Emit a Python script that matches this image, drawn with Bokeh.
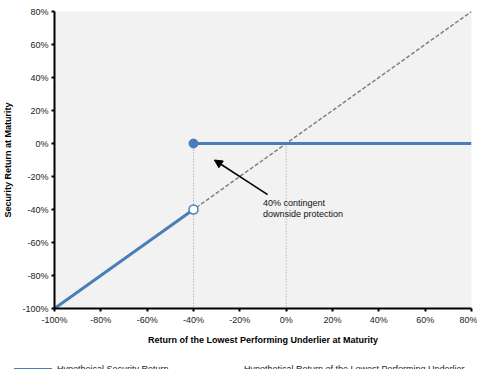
from bokeh.plotting import figure
from bokeh.layouts import column
from bokeh.models import (Arrow, NormalHead, Label, FixedTicker, Div,
                          CustomJSTickFormatter, Range1d)
from bokeh.embed import file_html
from bokeh.resources import INLINE

# ---- data ----
ticks = [-100, -80, -60, -40, -20, 0, 20, 40, 60, 80]
sec_down_x = [-100, -40]
sec_down_y = [-100, -40]
sec_flat_x = [-40, 80]
sec_flat_y = [0, 0]
under_x = [-100, 80]
under_y = [-100, 80]
barrier_x = [-40]
barrier_filled_y = [0]
barrier_open_y = [-40]
guide_x = [-40, 0]
guide_top = [0, 0]
guide_bottom = [-100, -100]
arrow_start = (-8, -31)
arrow_end = (-31, -10)
note_pos = (-10, -33)
note_text = "40% contingent\ndownside protection"
legend_labels = ["Hypotheical Security Return",
                 "Hypothetical Return of the Lowest Performing Underlier"]

BLUE = "#4a7ebb"
GRAY = "#808080"
FONT = "Liberation Sans"

p = figure(frame_width=417, frame_height=297, output_backend="svg",
           toolbar_location=None,
           x_range=Range1d(-100, 80), y_range=Range1d(-100, 80),
           min_border_left=44, min_border_right=6, min_border_top=11,
           min_border_bottom=0)
p.background_fill_color = "#f2f2f2"
p.border_fill_color = "white"
p.outline_line_color = None
p.xgrid.visible = False
p.ygrid.visible = False

fmt = CustomJSTickFormatter(code="return tick + '%';")
for ax in (p.xaxis[0], p.yaxis[0]):
    ax.ticker = FixedTicker(ticks=ticks)
    ax.formatter = fmt
    ax.axis_line_width = 2
    ax.axis_line_color = "black"
    ax.major_tick_line_color = "black"
    ax.major_tick_line_width = 2
    ax.major_tick_in = 0
    ax.major_tick_out = 3
    ax.minor_tick_line_color = None
    ax.major_label_text_font = FONT
    ax.major_label_text_font_size = "9px"
    ax.major_label_text_color = "#222222"
    ax.axis_label_text_font = FONT
    ax.axis_label_text_font_size = "9px"
    ax.axis_label_text_font_style = "bold"
    ax.axis_label_text_color = "black"

p.xaxis.axis_label = "Return of the Lowest Performing Underlier at Maturity"
p.yaxis.axis_label = "Security Return at Maturity"
p.xaxis.major_label_standoff = 3
p.yaxis.major_label_standoff = 3
p.xaxis.axis_label_standoff = 7
p.yaxis.axis_label_standoff = 6

# guide dotted lines
p.segment(x0=guide_x, y0=guide_top, x1=guide_x, y1=guide_bottom,
          line_color="#9a9a9a", line_width=1, line_dash="1 2")

# underlier dashed line
p.line(under_x, under_y, line_color=GRAY, line_width=1.5, line_dash="4 2")

# security return
p.line(sec_down_x, sec_down_y, line_color=BLUE, line_width=3)
p.line(sec_flat_x, sec_flat_y, line_color=BLUE, line_width=3)

p.scatter(barrier_x, barrier_filled_y, size=9, fill_color=BLUE,
          line_color=BLUE)
p.scatter(barrier_x, barrier_open_y, size=9, fill_color="white",
          line_color=BLUE, line_width=1.5)

# arrow + note
p.add_layout(Arrow(end=NormalHead(size=8, fill_color="black",
                                  line_color="black"),
                   x_start=arrow_start[0], y_start=arrow_start[1],
                   x_end=arrow_end[0], y_end=arrow_end[1],
                   line_color="black", line_width=1.5))
p.add_layout(Label(x=note_pos[0], y=note_pos[1], text=note_text,
                   text_font=FONT, text_font_size="9px",
                   text_color="#111111", text_baseline="top",
                   text_line_height=1.1))

# ---- legend strip (HTML, not frame-aligned) ----
legend_html = (
    "<div style=\"position:relative;width:475px;height:24px;"
    "font-family:'Liberation Sans',Arial,sans-serif;font-size:9px;"
    "color:#222222;line-height:11px;white-space:nowrap;\">"
    "<span style=\"position:absolute;left:9px;top:16px;width:38px;height:0;"
    "border-top:3px solid " + BLUE + ";\"></span>"
    "<span style=\"position:absolute;left:52px;top:12px;\">"
    + legend_labels[0] + "</span>"
    "<span style=\"position:absolute;left:192px;top:17px;width:40px;height:0;"
    "border-top:1.5px dashed " + GRAY + ";\"></span>"
    "<span style=\"position:absolute;left:239px;top:12px;\">"
    + legend_labels[1] + "</span>"
    "</div>"
)
lg = Div(text=legend_html, width=475, height=24)

layout = column(p, lg, spacing=0)
open("out.html", "w").write(file_html(layout, INLINE))
